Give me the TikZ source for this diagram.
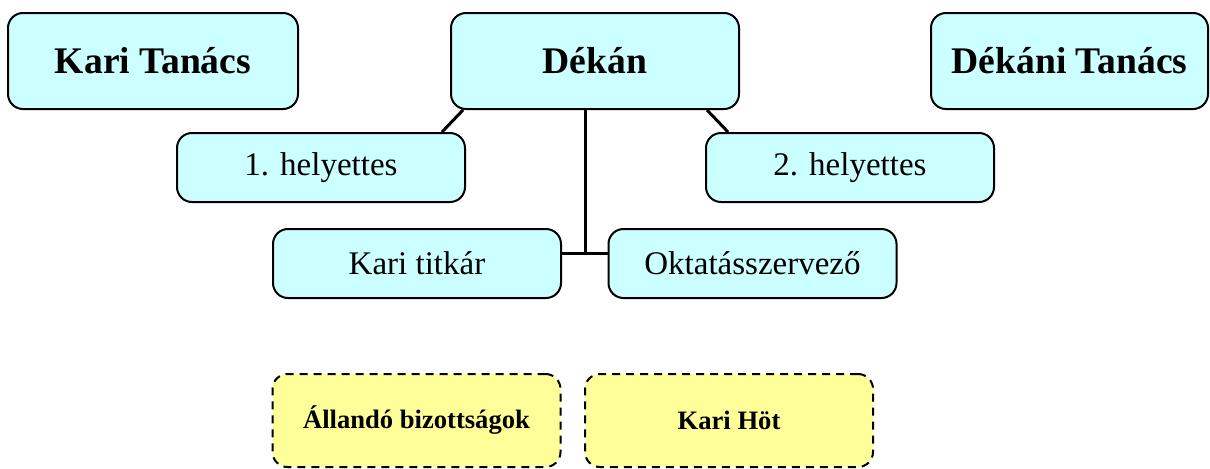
\documentclass[tikz,border=0pt]{standalone}
\usepackage{fontspec}
\setmainfont{Liberation Serif}
\definecolor{halvkek}{HTML}{CCFFFF}
\definecolor{halvsarga}{HTML}{FFFF99}
\begin{document}
\begin{tikzpicture}[x=0.5pt,y=-0.5pt,
  doboz/.style={draw,line width=1pt,rounded corners=7.5pt,fill=halvkek,
    inner sep=0pt,minimum width=144pt,minimum height=34.5pt,
    font=\fontsize{16.5}{19}\selectfont},
  fodoboz/.style={doboz,minimum height=48pt,font=\fontsize{18.8}{22}\selectfont\bfseries},
  bizdoboz/.style={doboz,fill=halvsarga,dash pattern=on 4pt off 3pt,
    minimum height=46.5pt,font=\fontsize{13.3}{15}\selectfont\bfseries},
  vonal/.style={line width=1.5pt}]
\useasboundingbox (0,0) rectangle (1210,468);
\node[fodoboz,minimum width=145pt] (karitanacs) at (153,61) {Kari Tanács};
\node[fodoboz] (dekan) at (595,61) {Dékán};
\node[fodoboz,minimum width=138.5pt] (dekanitanacs) at (1069.5,61) {Dékáni Tanács};
\node[doboz] (helyettes1) at (321,167.5) {1. helyettes};
\node[doboz] (helyettes2) at (850,167.5) {2. helyettes};
\node[doboz] (titkar) at (417,263.5) {Kari titkár};
\node[doboz] (oktatas) at (752.5,263.5) {Oktatásszervező};
\node[bizdoboz] (bizottsag) at (416.5,420.5) {Állandó bizottságok};
\node[bizdoboz] (hot) at (729,420.5) {Kari Höt};
\coordinate (elagazas) at (585,253);
\draw[vonal] ([xshift=6.5pt]dekan.south west) -- ([xshift=-12pt]helyettes1.north east);
\draw[vonal] ([xshift=-16.5pt]dekan.south east) -- ([xshift=11.5pt]helyettes2.north west);
\draw[vonal] (dekan.south -| elagazas) -- (elagazas);
\draw[vonal] (titkar.east |- elagazas) -- (oktatas.west |- elagazas);
\end{tikzpicture}
\end{document}
